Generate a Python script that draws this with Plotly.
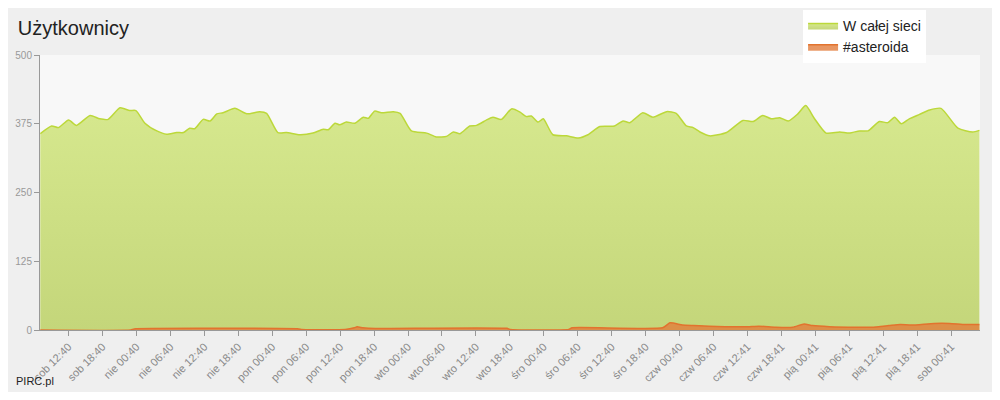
import plotly.graph_objects as go

# hours relative to "sob 12:40"
all_hours = [-5.0, -3.0, -1.8, 0.0, 1.4, 3.8, 5.5, 7.0, 9.1, 10.8, 11.9, 13.5, 15.6, 17.3, 19.1,
             20.3, 21.4, 22.3, 23.8, 25.0, 26.2, 27.3, 29.4, 31.5, 33.8, 35.0, 37.0, 38.5, 40.9,
             43.2, 45.0, 45.9, 47.1, 47.9, 49.1, 50.6, 52.1, 53.0, 54.1, 55.3, 57.4, 58.6, 60.6,
             63.3, 65.0, 66.8, 68.0, 69.2, 70.9, 72.1, 73.9, 75.0, 76.5, 78.3, 79.8, 80.9, 81.8,
             83.0, 83.9, 85.6, 88.0, 90.1, 91.8, 93.9, 96.5, 98.0, 99.2, 101.5, 103.3, 105.7,
             107.4, 109.2, 110.4, 111.6, 113.3, 116.3, 119.2, 121.0, 122.7, 124.2, 125.7, 127.2,
             128.9, 130.3, 131.8, 133.9, 136.3, 138.0, 139.8, 141.3, 143.3, 144.8, 146.0, 147.2,
             148.6, 150.4, 152.2, 154.2, 157.2, 159.8, 161.0]
all_users = [357, 371, 368, 382, 372, 390, 384, 383, 404, 399, 399, 376, 362, 356, 359,
             359, 367, 366, 383, 380, 393, 395, 403, 393, 397, 394, 359, 359, 355,
             358, 365, 364, 376, 373, 378, 376, 387, 385, 398, 395, 397, 394, 362,
             358, 351, 352, 360, 357, 371, 372, 382, 387, 383, 402, 396, 388, 389,
             378, 384, 355, 353, 349, 355, 370, 371, 380, 377, 395, 387, 397,
             394, 371, 368, 360, 353, 359, 381, 379, 390, 384, 386, 380,
             393, 408, 385, 358, 360, 358, 362, 362, 379, 377, 387, 375,
             384, 392, 400, 403, 367, 360, 363]

chan_hours = [-5.0, 11.0, 11.6, 40.7, 41.2, 48.9, 50.5, 51.0, 52.0, 53.0, 77.5, 78.0, 88.4, 89.0,
              105.0, 106.3, 108.5, 110.5, 116.0, 120.0, 122.0, 125.0, 128.0, 130.0, 131.5,
              134.5, 139.5, 142.0, 145.0, 147.0, 149.0, 153.0, 155.7, 158.5, 161.0]
chan_users = [0, 0, 2, 2, 1, 1, 4, 6, 4, 3, 3, 1, 1, 4,
              4, 13, 9, 8, 6, 6, 7, 5, 5, 11, 8,
              6, 5, 5, 8, 10, 9, 12, 12, 10, 10]

tick_hours = list(range(0, 157, 6))
tick_labels = ["sob 12:40", "sob 18:40", "nie 00:40", "nie 06:40", "nie 12:40", "nie 18:40",
               "pon 00:40", "pon 06:40", "pon 12:40", "pon 18:40", "wto 00:40", "wto 06:40",
               "wto 12:40", "wto 18:40", "śro 00:40", "śro 06:40", "śro 12:40", "śro 18:40",
               "czw 00:40", "czw 06:40", "czw 12:41", "czw 18:41", "pią 00:41", "pią 06:41",
               "pią 12:41", "pią 18:41", "sob 00:41"]

fig = go.Figure()
fig.add_trace(go.Scatter(
    x=all_hours, y=all_users, name="W całej sieci", mode="lines",
    line=dict(color="#bcd83a", width=1.5, shape="spline", smoothing=0.6),
    fill="tozeroy",
    fillgradient=dict(type="vertical", colorscale=[[0, "#c4d67a"], [1, "#d6e88e"]]),
))
fig.add_trace(go.Scatter(
    x=chan_hours, y=chan_users, name="#asteroida", mode="lines",
    line=dict(color="#e2732e", width=1.5, shape="spline", smoothing=0.5),
    fill="tozeroy", fillcolor="rgba(226,125,60,0.8)",
))

fig.update_layout(
    width=984, height=384,
    paper_bgcolor="#efefef", plot_bgcolor="#f8f8f8",
    margin=dict(l=32, r=12, t=47, b=62, autoexpand=False),
    font=dict(family="Arial, Liberation Sans", color="#888"),
    title=dict(text="Użytkownicy", x=0.01, xref="container", y=0.948, yref="container",
               yanchor="middle", font=dict(size=20, color="#222")),
    legend=dict(x=0.808, y=0.995, xanchor="left", yanchor="top", xref="container",
                yref="container", bgcolor="white", itemwidth=30,
                font=dict(size=14, color="#222"), traceorder="normal", tracegroupgap=0),
    showlegend=True,
)
fig.update_xaxes(range=[-5.05, 161.1], tickvals=tick_hours, ticktext=tick_labels,
                 tickangle=-45, tickfont=dict(size=11, color="#888"), showgrid=False,
                 ticks="outside", ticklen=5, tickcolor="#999", showline=True,
                 linecolor="#999", zeroline=False)
fig.update_yaxes(range=[0, 500], tickvals=[0, 125, 250, 375, 500], showgrid=False,
                 ticks="outside", ticklen=5, tickcolor="#999", showline=True,
                 linecolor="#999", tickfont=dict(size=10, color="#999"), zeroline=False)
fig.add_annotation(text="PIRC.pl", xref="paper", yref="paper", x=-0.028, y=-0.185,
                   xanchor="left", yanchor="middle", showarrow=False,
                   font=dict(size=11, color="#222"))
fig.write_html("out.html")
